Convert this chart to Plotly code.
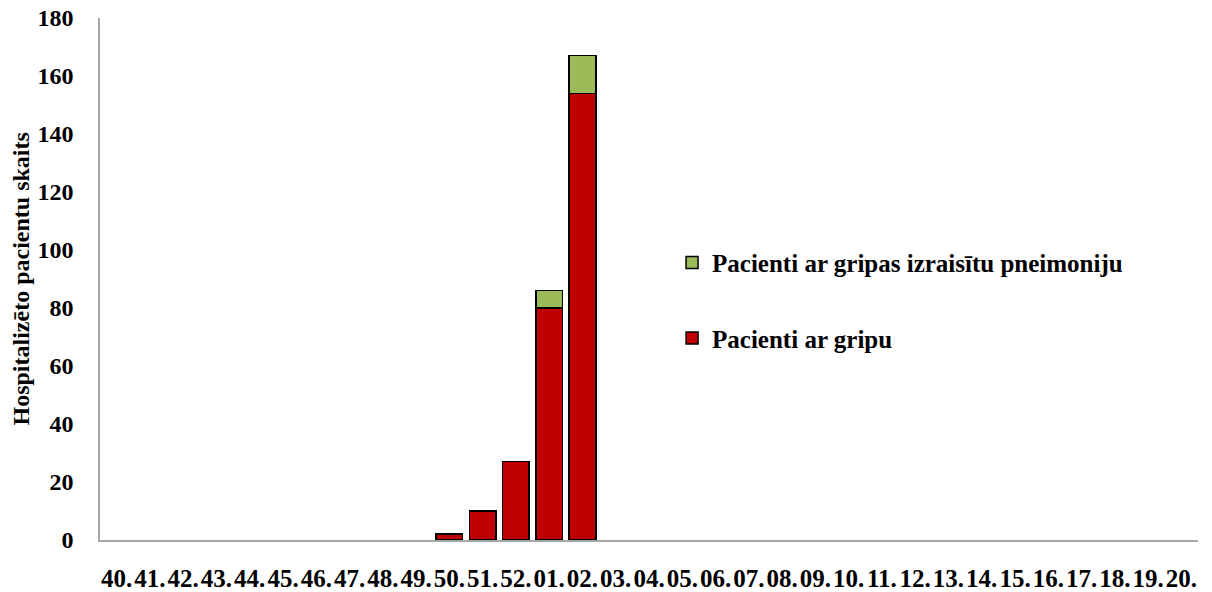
import plotly.graph_objects as go

weeks = ["40.", "41.", "42.", "43.", "44.", "45.", "46.", "47.", "48.", "49.", "50.", "51.", "52.",
         "01.", "02.", "03.", "04.", "05.", "06.", "07.", "08.", "09.", "10.", "11.", "12.", "13.",
         "14.", "15.", "16.", "17.", "18.", "19.", "20."]
gripa = [None, None, None, None, None, None, None, None, None, None, 2, 10, 27, 80, 154] + [None] * 18
pneimonija = [None] * 13 + [6, 13] + [None] * 18

name_gripa = "Pacienti ar gripu"
name_pneim = "Pacienti ar gripas izraisītu pneimoniju"
y_title = "Hospitalizēto pacientu skaits"

FONT = "Liberation Serif, Times New Roman, serif"

fig = go.Figure()
fig.add_trace(go.Bar(x=weeks, y=gripa, name=name_gripa, legendgroup="a", legendrank=2,
                     marker=dict(color="#C00000", line=dict(color="#000000", width=1.5))))
fig.add_trace(go.Bar(x=weeks, y=pneimonija, name=name_pneim, legendgroup="b", legendrank=1,
                     marker=dict(color="#9BBB59", line=dict(color="#000000", width=1.5))))

fig.update_layout(
    width=1204, height=584,
    barmode="stack", bargap=0.2,
    plot_bgcolor="white", paper_bgcolor="white",
    margin=dict(l=92, r=14, t=10, b=52, autoexpand=False),
    font=dict(family=FONT, color="#000000", size=21, weight="bold"),
    legend=dict(x=0.521, y=0.575, xanchor="left", yanchor="top",
                traceorder="grouped", tracegroupgap=40,
                font=dict(family=FONT, size=25, color="#000000", weight="bold"),
                bgcolor="rgba(0,0,0,0)"),
    xaxis=dict(type="category", showgrid=False, showline=True, linecolor="#A6A6A6", linewidth=1.5,
               ticks="", tickfont=dict(family=FONT, size=25, color="#000000", weight="bold"),
               ticklabelstandoff=15, tickangle=0, automargin=False, ticklabeloverflow="allow"),
    yaxis=dict(range=[0, 180], dtick=20, showgrid=False, showline=True, linecolor="#A6A6A6",
               linewidth=1.5, ticks="", zeroline=False, automargin=False, ticklabeloverflow="allow",
               tickfont=dict(family=FONT, size=24, color="#000000", weight="bold"), ticklabelstandoff=20),
    annotations=[dict(text=y_title, xref="paper", yref="paper", x=-0.0715, y=0.5,
                      xanchor="center", yanchor="middle", textangle=-90, showarrow=False,
                      font=dict(family=FONT, size=24, color="#000000", weight="bold"))],
)

fig.write_html("out.html")
